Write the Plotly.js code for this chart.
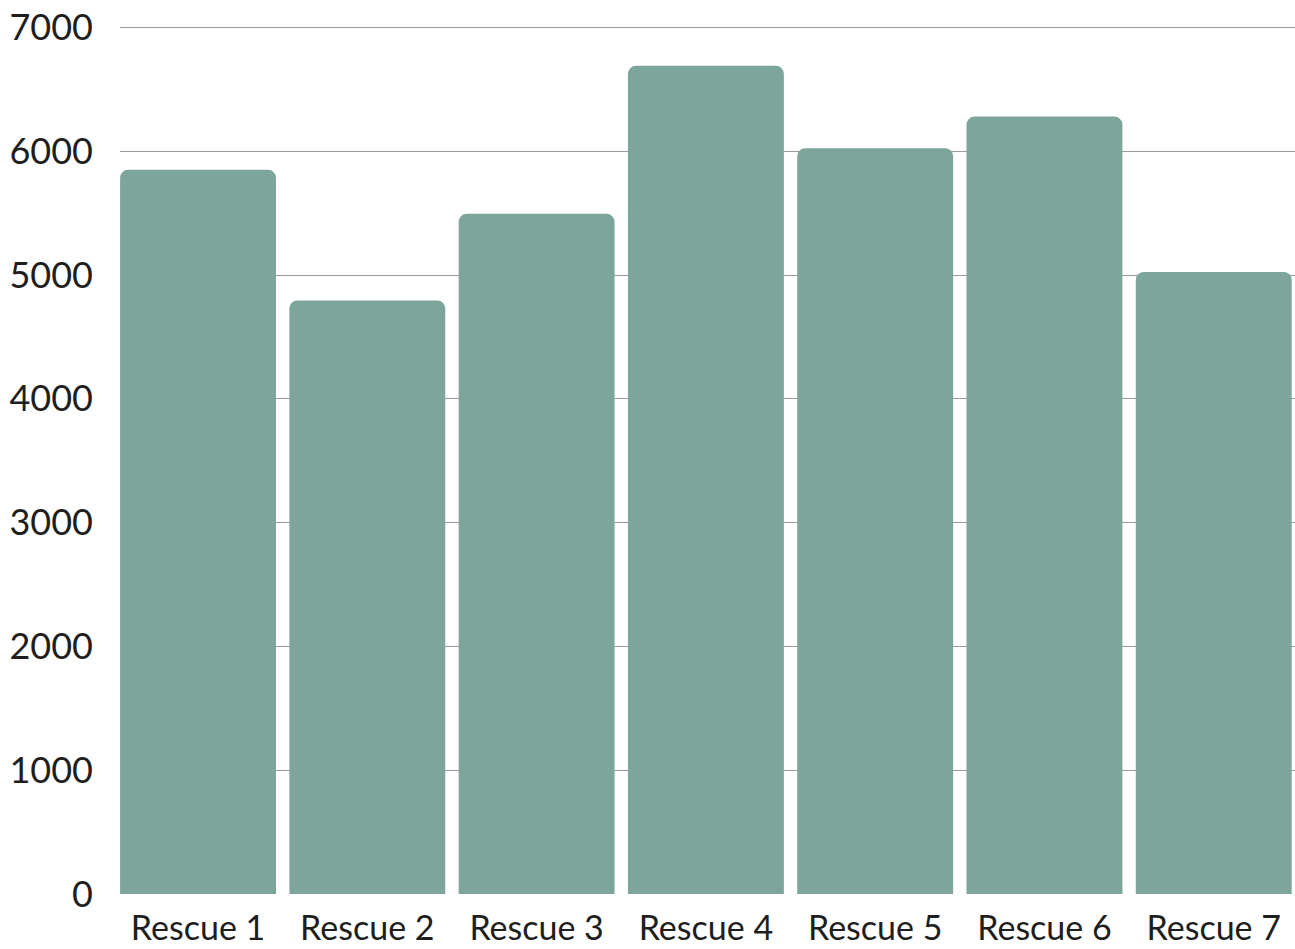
<!DOCTYPE html>
<html>
<head>
<meta charset="utf-8">
<script src="https://cdn.plot.ly/plotly-3.0.1.min.js"></script>
<style>
  html, body { margin: 0; padding: 0; background: #ffffff; }
  #chart { width: 1295px; height: 949px; }
</style>
</head>
<body>
<div id="chart"></div>
<script>
const categories = ["Rescue 1", "Rescue 2", "Rescue 3", "Rescue 4", "Rescue 5", "Rescue 6", "Rescue 7"];
const values = [5850, 4795, 5495, 6690, 6025, 6280, 5025];
const yTicks = [0, 1000, 2000, 3000, 4000, 5000, 6000, 7000];

const trace = {
  type: "bar",
  x: categories,
  y: values,
  marker: { color: "#7ea59c", cornerradius: 8, line: { width: 0 } },
  hoverinfo: "x+y"
};

const layout = {
  width: 1295,
  height: 949,
  margin: { l: 120, r: 0, t: 26, b: 55 },
  paper_bgcolor: "#ffffff",
  plot_bgcolor: "#ffffff",
  bargap: 0.079,
  showlegend: false,
  font: { family: "Lato, 'Open Sans', sans-serif", color: "#1e1e1e" },
  xaxis: {
    type: "category",
    range: [-0.461, 6.48],
    showgrid: false,
    zeroline: false,
    showline: false,
    ticks: "",
    tickfont: { size: 34, color: "#1e1e1e" },
    ticklabelstandoff: 11
  },
  yaxis: {
    range: [0, 7012],
    tickvals: yTicks,
    ticktext: yTicks.map(String),
    showgrid: true,
    gridcolor: "#9a9a9a",
    gridwidth: 1,
    zeroline: false,
    showline: false,
    ticks: "",
    tickfont: { size: 36, color: "#1e1e1e" },
    ticklabelstandoff: 26
  }
};

Plotly.newPlot("chart", [trace], layout, { displayModeBar: false, staticPlot: true });
</script>
</body>
</html>
